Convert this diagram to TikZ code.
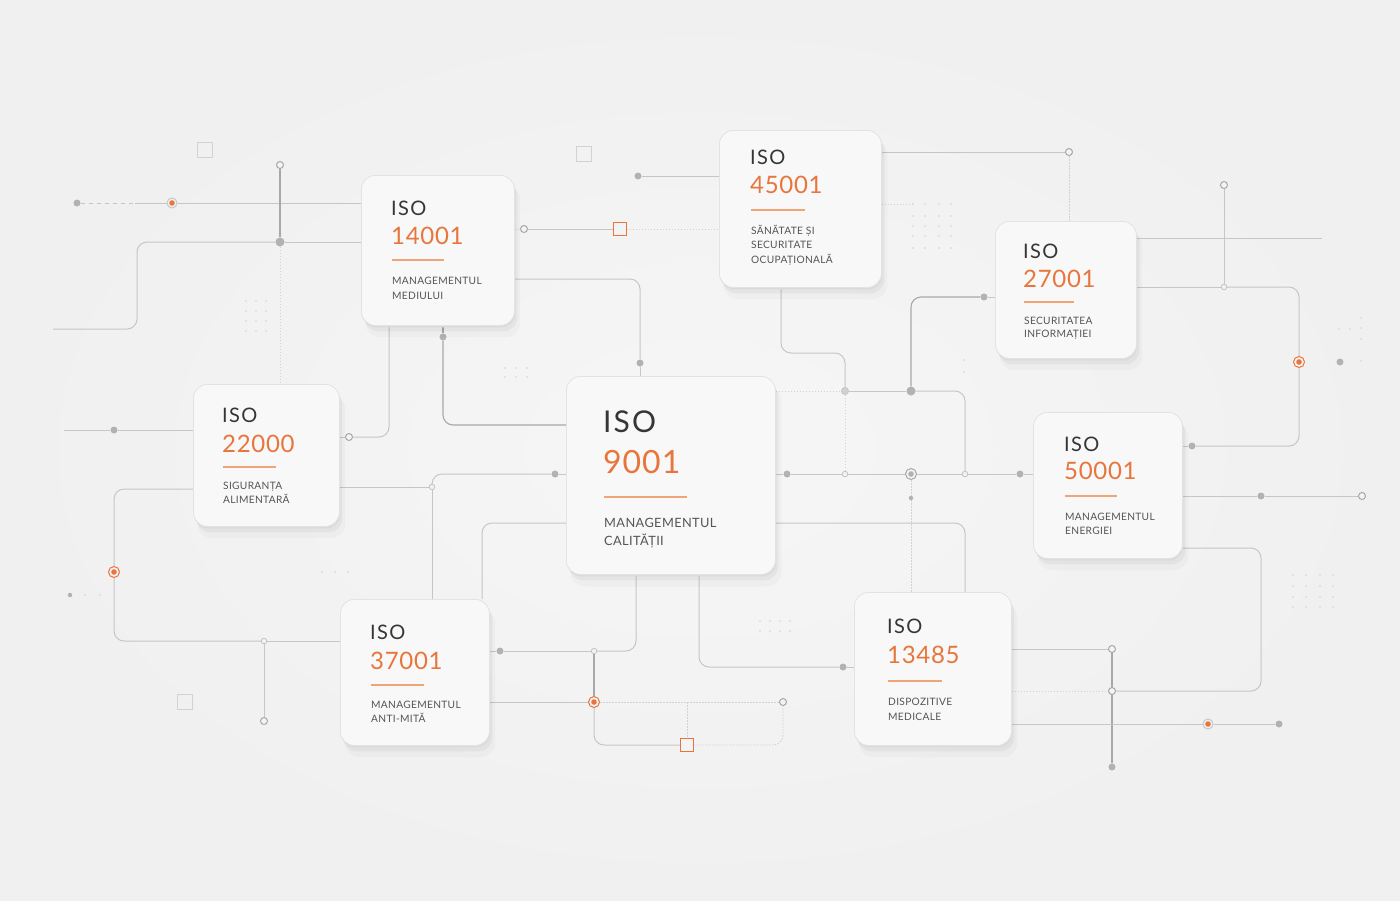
\documentclass[tikz,border=0pt]{standalone}
\usepackage{fontspec}
\setmainfont{Lato}
\newfontfamily\isofont[LetterSpace=7]{Lato}
\newfontfamily\numfont[LetterSpace=3]{Lato}
\newfontfamily\labfont[LetterSpace=3]{Lato}
\usetikzlibrary{shadows,calc}
\definecolor{bgc}{HTML}{F3F3F3}
\definecolor{bgin}{HTML}{F6F6F6}
\definecolor{bgout}{HTML}{F0F0F0}
\definecolor{cardfill}{HTML}{F8F8F8}
\definecolor{cardline}{HTML}{E3E3E3}
\definecolor{cardedge}{HTML}{DADADA}
\definecolor{orangec}{HTML}{E8763C}
\definecolor{ulinec}{HTML}{F0A577}
\definecolor{isoc}{HTML}{363636}
\definecolor{labc}{HTML}{555555}
\definecolor{lnc}{HTML}{C6C6C6}
\definecolor{lndc}{HTML}{A8A8A8}
\definecolor{lnfc}{HTML}{D2D2D2}
\definecolor{dotc}{HTML}{B2B2B2}
\pgfdeclarelayer{back}
\pgfdeclarelayer{lines}
\pgfdeclarelayer{dots}
\pgfsetlayers{back,lines,dots,main}
\tikzset{
  card/.style={rectangle, rounded corners=14pt, draw=cardline, line width=0.8pt, fill=cardfill, inner sep=0pt, anchor=north west,
    general shadow={fill=black, opacity=0.025, shadow xshift=5pt, shadow yshift=-11pt, shadow scale=1.01},
    general shadow={fill=black, opacity=0.04, shadow xshift=3pt, shadow yshift=-6pt},
    general shadow={fill=cardedge, shadow xshift=0.8pt, shadow yshift=-2pt}},
  isot/.style={anchor=base west, inner sep=0pt, text=isoc, font=\isofont\fontsize{20}{24}\selectfont},
  numt/.style={anchor=base west, inner sep=0pt, text=orangec, font=\numfont\fontsize{24}{28}\selectfont},
  labt/.style={anchor=base west, inner sep=0pt, text=labc, font=\labfont\fontsize{10.2}{12}\selectfont},
  isob/.style={isot, font=\isofont\fontsize{30}{34}\selectfont},
  numb/.style={numt, font=\numfont\fontsize{32}{36}\selectfont},
  labb/.style={labt, font=\labfont\fontsize{12.8}{16}\selectfont},
  uline/.style={draw=ulinec, line width=1.4pt},
  ln/.style={draw=lnc, line width=1pt, rounded corners=10pt},
  lnd/.style={draw=lndc, line width=1.1pt, rounded corners=10pt},
  lnf/.style={draw=lnfc, line width=0.9pt, dash pattern=on 1.5pt off 1.5pt, rounded corners=10pt},
  lndash/.style={draw=lnc, line width=1pt, dash pattern=on 4pt off 4pt},
  gdot/.style={circle, fill=dotc, inner sep=0pt, minimum size=7pt},
  bdot/.style={circle, fill=dotc, inner sep=0pt, minimum size=9pt},
  tdot/.style={circle, fill=dotc, inner sep=0pt, minimum size=4.5pt},
  ocirc/.style={circle, draw=lndc, fill=bgc, line width=1pt, inner sep=0pt, minimum size=7pt},
  scirc/.style={circle, draw=lnc, fill=bgc, line width=0.9pt, inner sep=0pt, minimum size=5.5pt},
  lcirc/.style={circle, draw=lnc, fill=lnfc, line width=0.9pt, inner sep=0pt, minimum size=7pt},
  oring/.style={circle, draw=orangec, fill=bgc, line width=1pt, inner sep=0pt, minimum size=11pt,
    path picture={\fill[orangec] (path picture bounding box.center) circle (2.8pt);}},
  oringl/.style={circle, draw=lnc, fill=bgc, line width=1pt, inner sep=0pt, minimum size=10pt,
    path picture={\fill[orangec] (path picture bounding box.center) circle (2.8pt);}},
  gring/.style={circle, draw=lndc, fill=bgc, line width=1pt, inner sep=0pt, minimum size=11pt,
    path picture={\fill[dotc] (path picture bounding box.center) circle (2.8pt);}},
  osq/.style={rectangle, draw=orangec, fill=bgc, line width=1.2pt, inner sep=0pt, minimum size=12.5pt},
  gsq/.style={rectangle, draw=lnfc, line width=1pt, inner sep=0pt, minimum size=15pt},
  gridd/.style={fill=lnfc}
}
\begin{document}
\begin{tikzpicture}[x=1pt,y=-1pt]
\useasboundingbox (0,0) rectangle (1400,900);
\begin{pgfonlayer}{back}
\shade[inner color=bgin, outer color=bgout] (0,0) rectangle (1400,900);
\end{pgfonlayer}

% ---------------- cards ----------------
\node[card, minimum width=209pt, minimum height=198pt] (c9001) at (566,376) {};
\node[isob] (t9001a) at (603,432) {ISO};
\node[numb] (t9001b) at (603,473) {9001};
\draw[uline] (604,497) -- (687,497);
\node[labb] (t9001c) at (604,527) {MANAGEMENTUL};
\node[labb] (t9001d) at (604,545) {CALITĂȚII};

\node[card, minimum width=153pt, minimum height=150pt] (c14001) at (361,175) {};
\node[isot] (t14001a) at (391,215) {ISO};
\node[numt] (t14001b) at (391,244) {14001};
\draw[uline] (392,260) -- (444,260);
\node[labt] (t14001c) at (392,284) {MANAGEMENTUL};
\node[labt] (t14001d) at (392,299) {MEDIULUI};

\node[card, minimum width=162pt, minimum height=157pt] (c45001) at (719,130) {};
\node[isot] (t45001a) at (750,164) {ISO};
\node[numt] (t45001b) at (750,193) {45001};
\draw[uline] (751,210) -- (805,210);
\node[labt] (t45001c) at (751,234) {SĂNĂTATE ȘI};
\node[labt] (t45001d) at (751,248) {SECURITATE};
\node[labt] (t45001e) at (751,263) {OCUPAȚIONALĂ};

\node[card, minimum width=141pt, minimum height=137pt] (c27001) at (995,221) {};
\node[isot] (t27001a) at (1023,258) {ISO};
\node[numt] (t27001b) at (1023,287) {27001};
\draw[uline] (1024,302) -- (1074,302);
\node[labt] (t27001c) at (1024,324) {SECURITATEA};
\node[labt] (t27001d) at (1024,337) {INFORMAȚIEI};

\node[card, minimum width=146pt, minimum height=142pt] (c22000) at (193,384) {};
\node[isot] (t22000a) at (222,422) {ISO};
\node[numt] (t22000b) at (222,452) {22000};
\draw[uline] (223,467) -- (276,467);
\node[labt] (t22000c) at (223,489) {SIGURANȚA};
\node[labt] (t22000d) at (223,503) {ALIMENTARĂ};

\node[card, minimum width=149pt, minimum height=146pt] (c50001) at (1033,412) {};
\node[isot] (t50001a) at (1064,451) {ISO};
\node[numt] (t50001b) at (1064,479) {50001};
\draw[uline] (1065,496) -- (1117,496);
\node[labt] (t50001c) at (1065,520) {MANAGEMENTUL};
\node[labt] (t50001d) at (1065,534) {ENERGIEI};

\node[card, minimum width=149pt, minimum height=146pt] (c37001) at (340,599) {};
\node[isot] (t37001a) at (370,639) {ISO};
\node[numt] (t37001b) at (370,669) {37001};
\draw[uline] (371,685) -- (424,685);
\node[labt] (t37001c) at (371,708) {MANAGEMENTUL};
\node[labt] (t37001d) at (371,722) {ANTI-MITĂ};

\node[card, minimum width=157pt, minimum height=153pt] (c13485) at (854,592) {};
\node[isot] (t13485a) at (887,633) {ISO};
\node[numt] (t13485b) at (887,663) {13485};
\draw[uline] (888,681) -- (942,681);
\node[labt] (t13485c) at (888,705) {DISPOZITIVE};
\node[labt] (t13485d) at (888,720) {MEDICALE};

% ---------------- dots & markers ----------------
\begin{pgfonlayer}{dots}
\node[gdot] (gd1) at (77,203) {};
\node[oringl] (or1) at (172,203) {};
\node[ocirc] (oc1) at (280,165) {};
\node[bdot] (bd1) at (280,242) {};
\node[gdot] (gd2) at (443,337) {};
\node[ocirc] (oc2) at (524,229) {};
\node[osq] (osq1) at (620,229) {};
\node[gdot] (gd3) at (638,176) {};
\node[gdot] (gd4) at (640,363) {};
\node[ocirc] (oc3) at (1069,152) {};
\node[lcirc] (sc1) at (845,391) {};
\node[bdot] (bd2) at (911,391) {};
\node[gdot] (gd5) at (984,297) {};
\node[gdot] (gd6) at (787,474) {};
\node[gring] (gr1) at (911,474) {};
\node[scirc] (sc2) at (845,474) {};
\node[scirc] (sc3) at (965,474) {};
\node[gdot] (gd7) at (1020,474) {};
\node[ocirc] (oc4) at (1224,185) {};
\node[scirc] (sc4) at (1224,287) {};
\node[oring] (or2) at (1299,362) {};
\node[gdot] (gd8) at (1340,362) {};
\node[gdot] (gd9) at (1192,446) {};
\node[gdot] (gd10) at (1261,496) {};
\node[ocirc] (oc5) at (1362,496) {};
\node[ocirc] (oc6) at (1112,649) {};
\node[ocirc] (oc7) at (1112,691) {};
\node[gdot] (gd11) at (1112,767) {};
\node[oringl] (or3) at (1208,724) {};
\node[gdot] (gd12) at (1279,724) {};
\node[gdot] (gd13) at (843,667) {};
\node[gdot] (gd14) at (114,430) {};
\node[ocirc] (oc8) at (349,437) {};
\node[scirc] (sc5) at (432,487) {};
\node[gdot] (gd15) at (555,474) {};
\node[oring] (or4) at (114,572) {};
\node[scirc] (sc6) at (264,641) {};
\node[ocirc] (oc9) at (264,721) {};
\node[gdot] (gd16) at (500,651) {};
\node[scirc] (sc7) at (594,651) {};
\node[oring] (or5) at (594,702) {};
\node[ocirc] (oc10) at (783,702) {};
\node[osq] (osq2) at (687,745) {};
\node[tdot] (td1) at (70,595) {};
\node[tdot] (td2) at (911,498) {};
\node[gsq] (sq1) at (205,149.5) {};
\node[gsq] (sq2) at (584,153.5) {};
\node[gsq] (sq3) at (184.5,701.5) {};
% dot grids
\foreach \gx in {246,256,266} \foreach \gy in {301,311,321,331} \fill[gridd] (\gx,\gy) circle (0.8pt);
\foreach \gx in {913,925,939,951} \foreach \gy in {204,216,226,236,248} \fill[gridd] (\gx,\gy) circle (0.8pt);
\foreach \gx in {1293,1306,1320,1333} \foreach \gy in {575,586,597,607} \fill[gridd] (\gx,\gy) circle (0.8pt);
\foreach \gx in {760,770,780,790} \foreach \gy in {621,631} \fill[gridd] (\gx,\gy) circle (0.8pt);
\foreach \gx in {505,516,527} \foreach \gy in {368,377} \fill[gridd] (\gx,\gy) circle (0.8pt);
\foreach \gx in {322,335,348} \fill[gridd] (\gx,572) circle (0.8pt);
\foreach \gp in {(1361,318),(1361,328),(1339,329),(1350,329),(1361,339),(1361,361),(964,360),(964,372),(85,595),(100,595)} \fill[gridd] \gp circle (0.9pt);
\end{pgfonlayer}

% ---------------- connectors ----------------
\coordinate (k1) at (135,203);
\coordinate (k2) at (53,329);
\coordinate (k3) at (137,329);
\coordinate (k4) at (640,279);
\coordinate (k5) at (443,425);
\coordinate (k6) at (781,353);
\coordinate (k8) at (911,297);
\coordinate (k9) at (965,391);
\coordinate (k11) at (965,523);
\coordinate (k12) at (1322,238);
\coordinate (k13) at (1299,287);
\coordinate (k14) at (1299,446);
\coordinate (k15) at (1261,548);
\coordinate (k16) at (699,667);
\coordinate (k17) at (64,430);
\coordinate (k18) at (389,437);
\coordinate (k19) at (432,474);
\coordinate (k20) at (114,489);
\coordinate (k21) at (114,641);
\coordinate (k22) at (482,523);
\coordinate (k23) at (636,651);
\coordinate (k24) at (594,745);
\coordinate (k25) at (783,745);
\coordinate (k26) at (912,204);
\begin{pgfonlayer}{lines}
% top left
\draw[lndash] (gd1) -- (k1);
\draw[ln] (k1) -- (or1);
\draw[ln] (or1) -- (c14001.west |- or1);
\draw[lnd] (oc1) -- (bd1);
\draw[ln] (bd1) -- (c14001.west |- bd1);
\draw[lnf] (bd1) -- (bd1 |- c22000.north);
\draw[ln] (k2) -- (k3) |- (bd1);
% 14001
\draw[lnf] (c14001.east |- oc2) -- (oc2);
\draw[ln] (oc2) -- (osq1);
\draw[lnf] (osq1) -- (c45001.west |- osq1);
\draw[ln] (gd3) -- (c45001.west |- gd3);
\draw[ln] (c14001.east |- k4) -- (k4) -- (gd4);
\draw[ln] (gd4) -- (gd4 |- c9001.north);
\draw[lnd] (c14001.south -| gd2) -- (gd2);
\draw[lnd] (gd2) |- (c9001.west |- k5);
% 45001
\draw[ln] (c45001.east |- oc3) -- (oc3);
\draw[lnf] (oc3) -- (oc3 |- c27001.north);
\draw[lnf] (c45001.east |- k26) -- (k26);
\draw[ln] (c45001.south -| k6) -- (k6) -- (k6 -| sc1) -- (sc1);
\draw[lnd] (bd2) -- (k8) -- (gd5);
\draw[ln] (gd5) -- (c27001.west |- gd5);
\draw[lnf] (c9001.east |- sc1) -- (sc1);
\draw[ln] (sc1) -- (bd2);
\draw[ln] (bd2) -- (k9) -- (sc3);
\draw[lnf] (sc1) -- (sc2);
% y = 474 line
\draw[ln] (c9001.east |- gd6) -- (gd6);
\draw[ln] (gd6) -- (sc2);
\draw[ln] (sc2) -- (gr1);
\draw[ln] (gr1) -- (sc3);
\draw[ln] (sc3) -- (gd7);
\draw[ln] (gd7) -- (c50001.west |- gd7);
\draw[lnf] (gr1) -- (td2);
\draw[lnf] (td2) -- (td2 |- c13485.north);
\draw[ln] (c9001.east |- k11) -- (k11) -- (k11 |- c13485.north);
% 27001
\draw[ln] (c27001.east |- k12) -- (k12);
\draw[ln] (oc4) -- (sc4);
\draw[ln] (c27001.east |- sc4) -- (sc4);
\draw[ln] (sc4) -- (k13) -- (or2);
\draw[ln] (or2) -- (k14) -- (gd9);
\draw[ln] (gd9) -- (c50001.east |- gd9);
% 50001
\draw[ln] (c50001.east |- gd10) -- (gd10);
\draw[ln] (gd10) -- (oc5);
\draw[ln] (c50001.east |- k15) -- (k15) |- (oc7);
% 13485
\draw[ln] (c13485.east |- oc6) -- (oc6);
\draw[lnd] (oc6) -- (oc7);
\draw[lnd] (oc7) -- (gd11);
\draw[lnf] (c13485.east |- oc7) -- (oc7);
\draw[ln] (c13485.east |- or3) -- (or3);
\draw[ln] (or3) -- (gd12);
\draw[ln] (gd13) -- (c13485.west |- gd13);
\draw[ln] (gd13) -- (k16) -- (k16 |- c9001.south);
% 22000
\draw[ln] (k17) -- (gd14);
\draw[ln] (gd14) -- (c22000.west |- gd14);
\draw[ln] (c22000.east |- oc8) -- (oc8);
\draw[ln] (oc8) -- (k18) -- (k18 |- c14001.south);
\draw[ln] (c22000.east |- sc5) -- (sc5);
\draw[ln] (sc5) -- (k19) -- (gd15);
\draw[ln] (gd15) -- (c9001.west |- gd15);
\draw[ln] (sc5) -- (sc5 |- c37001.north);
\draw[ln] (c22000.west |- k20) -- (k20) -- (or4);
\draw[ln] (or4) -- (k21) -- (sc6);
\draw[ln] (sc6) -- (c37001.west |- sc6);
\draw[ln] (sc6) -- (oc9);
% 37001
\draw[ln] (c9001.west |- k22) -- (k22) -- (k22 |- c37001.north);
\draw[ln] (c37001.east |- gd16) -- (gd16);
\draw[ln] (gd16) -- (sc7);
\draw[ln] (sc7) -- (k23) -- (k23 |- c9001.south);
\draw[lnd] (sc7) -- (or5);
\draw[ln] (or5) -- (k24) -- (osq2);
\draw[lnf] (osq2) -- (k25) -- (oc10);
\draw[ln] (c37001.east |- or5) -- (or5);
\draw[lnf] (or5) -- (oc10);
\draw[lnf] (osq2 |- or5) -- (osq2);
\end{pgfonlayer}
\end{tikzpicture}
\end{document}
